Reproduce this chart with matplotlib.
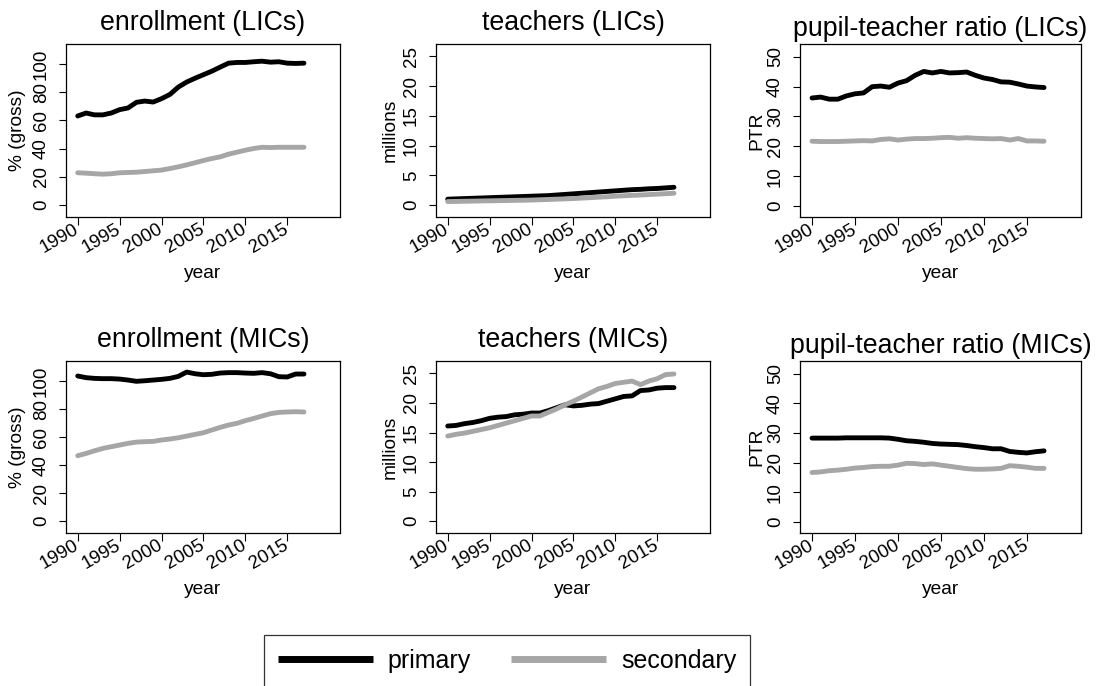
import matplotlib
matplotlib.use('Agg')
import matplotlib.pyplot as plt
from matplotlib.lines import Line2D

plt.rcParams['font.family'] = ['Liberation Sans', 'DejaVu Sans']

years = list(range(1990, 2018))

# gross enrollment (%)
enr_lic_pri = [63.2, 65.3, 64.0, 64.0, 65.3, 67.7, 68.9, 72.9, 73.8, 73.1, 75.5, 78.5, 83.7, 87.3,
               90.0, 92.5, 95.0, 97.9, 100.7, 101.2, 101.2, 101.7, 102.1, 101.4, 101.7, 100.7, 100.5, 100.7]
enr_lic_sec = [22.9, 22.6, 22.2, 21.9, 22.2, 22.9, 23.1, 23.3, 23.8, 24.3, 24.8, 25.9, 27.1, 28.5,
               30.0, 31.6, 33.0, 34.2, 36.1, 37.5, 38.9, 40.1, 41.0, 40.8, 41.0, 41.0, 41.0, 41.0]
enr_mic_pri = [103.6, 102.4, 101.9, 101.7, 101.7, 101.4, 100.7, 99.8, 100.2, 100.7, 101.2, 101.9, 103.3, 106.4,
               105.2, 104.5, 104.8, 105.7, 106.0, 106.0, 105.7, 105.5, 106.0, 105.2, 103.1, 102.9, 105.0, 105.0]
enr_mic_sec = [46.7, 48.3, 50.2, 51.9, 53.1, 54.3, 55.5, 56.4, 56.7, 56.9, 57.9, 58.6, 59.5, 60.7,
               61.9, 63.1, 65.0, 66.9, 68.6, 69.8, 71.7, 73.3, 75.0, 76.7, 77.6, 77.9, 78.1, 77.9]

# teachers (millions)
tch_lic_pri = [1.0, 1.05, 1.1, 1.15, 1.2, 1.25, 1.3, 1.35, 1.4, 1.45, 1.5, 1.55, 1.6, 1.7,
               1.8, 1.9, 2.0, 2.1, 2.2, 2.3, 2.4, 2.5, 2.6, 2.65, 2.75, 2.8, 2.9, 3.0]
tch_lic_sec = [0.6, 0.62, 0.65, 0.67, 0.7, 0.72, 0.75, 0.77, 0.8, 0.82, 0.85, 0.9, 0.95, 1.0,
               1.05, 1.1, 1.18, 1.25, 1.33, 1.4, 1.5, 1.57, 1.64, 1.7, 1.77, 1.85, 1.92, 2.0]
tch_mic_pri = [16.1, 16.2, 16.5, 16.7, 17.0, 17.4, 17.6, 17.7, 18.0, 18.1, 18.3, 18.3, 18.7, 19.2,
               19.7, 19.5, 19.6, 19.8, 19.9, 20.3, 20.7, 21.1, 21.2, 22.1, 22.2, 22.5, 22.6, 22.6]
tch_mic_sec = [14.4, 14.7, 14.9, 15.2, 15.5, 15.8, 16.2, 16.6, 17.0, 17.4, 17.8, 17.8, 18.4, 19.0,
               19.7, 20.3, 21.0, 21.7, 22.4, 22.8, 23.3, 23.5, 23.7, 23.1, 23.7, 24.1, 24.8, 24.9]

# pupil-teacher ratio
ptr_lic_pri = [36.2, 36.5, 35.8, 35.8, 36.9, 37.6, 37.9, 40.0, 40.2, 39.8, 41.2, 42.0, 43.8, 45.1,
               44.6, 45.1, 44.6, 44.7, 44.9, 43.8, 42.9, 42.4, 41.6, 41.5, 40.9, 40.2, 39.9, 39.7]
ptr_lic_sec = [21.7, 21.6, 21.6, 21.6, 21.7, 21.8, 21.9, 21.8, 22.3, 22.5, 22.1, 22.4, 22.6, 22.6,
               22.7, 22.9, 23.0, 22.7, 22.9, 22.7, 22.6, 22.5, 22.6, 22.1, 22.6, 21.8, 21.8, 21.7]
ptr_mic_pri = [28.3, 28.3, 28.3, 28.3, 28.4, 28.4, 28.4, 28.4, 28.4, 28.3, 27.9, 27.4, 27.2, 26.9,
               26.5, 26.3, 26.2, 26.1, 25.8, 25.4, 25.1, 24.7, 24.7, 23.8, 23.5, 23.3, 23.7, 24.0]
ptr_mic_sec = [16.7, 16.9, 17.3, 17.5, 17.8, 18.2, 18.4, 18.7, 18.8, 18.8, 19.2, 19.8, 19.7, 19.4,
               19.6, 19.2, 18.8, 18.4, 18.0, 17.8, 17.8, 17.9, 18.1, 19.0, 18.8, 18.5, 18.1, 18.1]

panels = [
    ('enrollment (LICs)', '% (gross)', enr_lic_pri, enr_lic_sec),
    ('teachers (LICs)', 'millions', tch_lic_pri, tch_lic_sec),
    ('pupil-teacher ratio (LICs)', 'PTR', ptr_lic_pri, ptr_lic_sec),
    ('enrollment (MICs)', '% (gross)', enr_mic_pri, enr_mic_sec),
    ('teachers (MICs)', 'millions', tch_mic_pri, tch_mic_sec),
    ('pupil-teacher ratio (MICs)', 'PTR', ptr_mic_pri, ptr_mic_sec),
]

W, H = 1101, 686
black = '#000000'
grey = '#a6a6a6'

# pixel boxes of the panels (left, right) per column, (top, bottom) per row
cols = [(66, 340), (436, 710), (800, 1081)]
rows = [(44, 217), (361, 533)]
ylims = [(-8.5, 114.3), (-2.0, 27.1), (-3.7, 54.3)]
yticks = [[0, 20, 40, 60, 80, 100], [0, 5, 10, 15, 20, 25], [0, 10, 20, 30, 40, 50]]
title_pads = [10, 10, 5.5]
ylab_off = [48, 46, 43]

fig = plt.figure(figsize=(W / 100, H / 100), dpi=100)

for i, (title, ylab, pri, sec) in enumerate(panels):
    r, c = divmod(i, 3)
    l, rr = cols[c]
    t, b = rows[r]
    ax = fig.add_axes([l / W, 1 - b / H, (rr - l) / W, (b - t) / H])
    ax.plot(years, pri, color=black, lw=3.5, solid_capstyle='round', solid_joinstyle='round')
    ax.plot(years, sec, color=grey, lw=3.5, solid_capstyle='round', solid_joinstyle='round')
    ax.set_xlim(1988.6, 2021.3)
    ax.set_ylim(*ylims[c])
    ax.set_xticks([1990, 1995, 2000, 2005, 2010, 2015])
    ax.set_yticks(yticks[c])
    ax.tick_params(axis='x', length=5.5, width=0.8, labelsize=13.5, pad=2.5)
    ax.tick_params(axis='y', length=5, width=0.8, labelsize=13.5, pad=6.5)
    for lab in ax.get_xticklabels():
        lab.set_rotation(30)
        lab.set_ha('right')
        lab.set_va('center')
        lab.set_rotation_mode('anchor')
    for lab in ax.get_yticklabels():
        lab.set_rotation(90)
        lab.set_va('center')
    for s in ax.spines.values():
        s.set_linewidth(0.9)
    ax.set_title(title, fontsize=19.3, pad=title_pads[c])
    ax.set_xlabel('year', fontsize=13.8, va='center')
    ax.xaxis.set_label_coords(0.5, -56 / (b - t))
    ax.set_ylabel(ylab, fontsize=13.8, va='center')
    ax.yaxis.set_label_coords(-ylab_off[c] / (rr - l), 0.5)

handles = [Line2D([], [], color=black, lw=5, solid_capstyle='butt'),
           Line2D([], [], color=grey, lw=5, solid_capstyle='butt')]
leg = fig.legend(handles, ['primary', 'secondary'], loc='center', bbox_to_anchor=(507 / W, 1 - 661 / H),
                 ncol=2, fontsize=18, frameon=True, fancybox=False, handlelength=3.8, handletextpad=0.6,
                 columnspacing=1.6, borderpad=0.55, borderaxespad=0)
leg.get_frame().set_edgecolor('black')
leg.get_frame().set_linewidth(0.9)

fig.savefig('out.png', dpi=100)
